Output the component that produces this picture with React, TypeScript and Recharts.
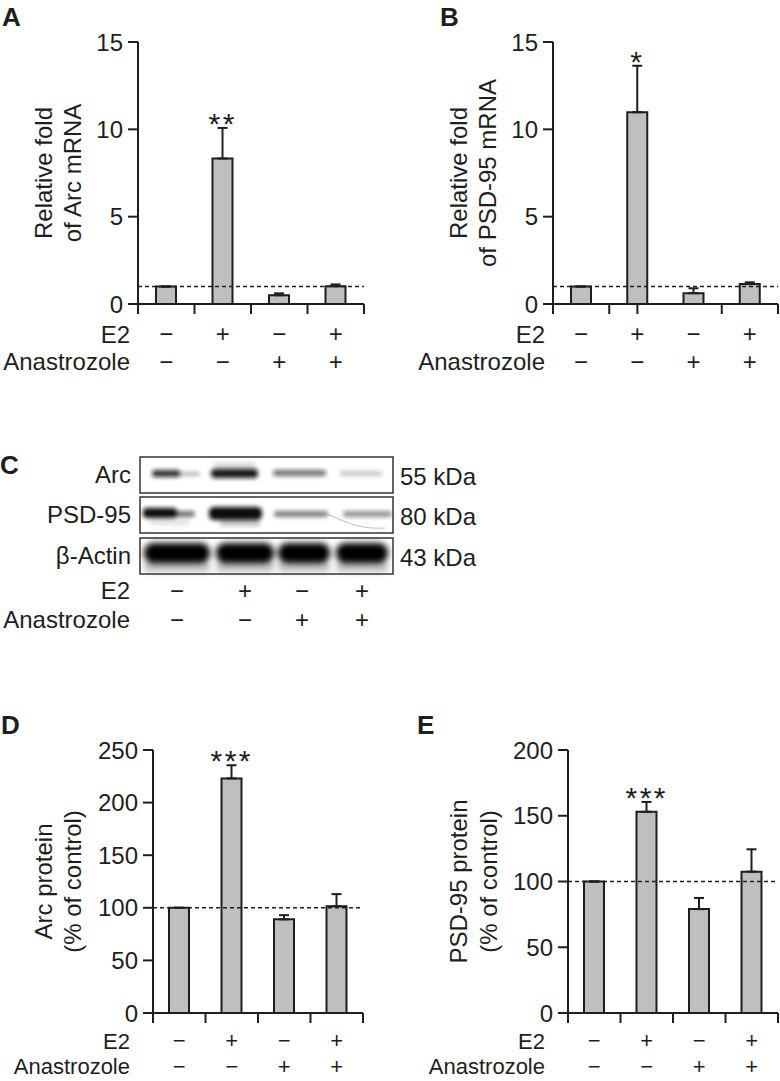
import React from "react";
import {
  Bar,
  BarChart,
  ErrorBar,
  ReferenceDot,
  ReferenceLine,
  XAxis,
  YAxis,
} from "recharts";

const FONT = "'Liberation Sans', Arial, Helvetica, sans-serif";
const INK = "#1e1e1e";
const BAR_FILL = "#bfbfbf";
const AXIS_H = 66;

// treatment table (same for every panel)
const e2Signs = ["−", "+", "−", "+"];
const anaSigns = ["−", "−", "+", "+"];

// A: Arc mRNA (relative fold)
const arcMrna = [1.0, 8.33, 0.5, 1.02];
const arcMrnaErr = [0, 1.75, 0.11, 0.1];
const arcMrnaSig = ["", "**", "", ""];

// B: PSD-95 mRNA (relative fold)
const psdMrna = [1.0, 10.98, 0.62, 1.14];
const psdMrnaErr = [0, 2.66, 0.28, 0.1];
const psdMrnaSig = ["", "*", "", ""];

// D: Arc protein (% of control)
const arcProtein = [100, 223, 89, 101.5];
const arcProteinErr = [0, 12.5, 4, 11.5];
const arcProteinSig = ["", "***", "", ""];

// E: PSD-95 protein (% of control)
const psdProtein = [100, 153, 79, 107.5];
const psdProteinErr = [0, 7.5, 8.5, 17];
const psdProteinSig = ["", "***", "", ""];

// C: western blot
const blotRows = ["Arc", "PSD-95", "β-Actin"];
const blotSizes = ["55 kDa", "80 kDa", "43 kDa"];

type PanelProps = {
  left: number;
  top: number;
  width: number;
  height: number;
  plotLeft: number;
  plotTop: number;
  plotRight: number;
  plotBottom: number;
  values: number[];
  errors: number[];
  sig: string[];
  yMax: number;
  yTicks: number[];
  baseline: number;
  yLabel: string[];
  yLabelX: number[];
  rowLabelX: number;
  boundaryTicks: number[];
  rowY: number[];
  rowFont: number;
};

function BarPanel(p: PanelProps) {
  const rows = p.values.map((v, i) => ({
    x: i + 0.5,
    value: v,
    err: [0, p.errors[i]],
  }));
  const centers = p.values.map((_, i) => i + 0.5);
  const tickList = Array.from(new Set([...p.boundaryTicks, ...centers])).sort(
    (a, b) => a - b,
  );
  const [r1, r2] = p.rowY;
  const fs = p.rowFont;

  const renderTick = (t: any) => {
    const v = t.payload.value;
    const ci = centers.indexOf(v);
    return (
      <g>
        {p.boundaryTicks.includes(v) && (
          <line x1={t.x} x2={t.x} y1={t.y} y2={t.y + 10} stroke={INK} strokeWidth={2} />
        )}
        {ci >= 0 && (
          <>
            <text x={t.x} y={t.y + r1} textAnchor="middle" fontSize={fs} fill={INK}>
              {e2Signs[ci]}
            </text>
            <text x={t.x} y={t.y + r2} textAnchor="middle" fontSize={fs} fill={INK}>
              {anaSigns[ci]}
            </text>
          </>
        )}
        {t.index === 0 && (
          <>
            <text x={p.rowLabelX} y={t.y + r1 + 1} textAnchor="end" fontSize={fs} fill={INK}>
              E2
            </text>
            <text x={p.rowLabelX} y={t.y + r2} textAnchor="end" fontSize={fs} fill={INK}>
              Anastrozole
            </text>
          </>
        )}
      </g>
    );
  };

  const renderYLabel = (lp: any) => {
    const vb = lp.viewBox || {};
    const cy = (vb.y ?? p.plotTop) + (vb.height ?? p.plotBottom - p.plotTop) / 2;
    return (
      <g>
        {p.yLabel.map((line, i) => (
          <text
            key={line}
            x={p.yLabelX[i]}
            y={cy}
            transform={`rotate(-90 ${p.yLabelX[i]} ${cy})`}
            textAnchor="middle"
            dominantBaseline="central"
            fontSize={24}
            fill={INK}
          >
            {line}
          </text>
        ))}
      </g>
    );
  };

  return (
    <div style={{ position: "absolute", left: p.left, top: p.top, width: p.width, height: p.height }}>
      <BarChart
        width={p.width}
        height={p.height}
        data={rows}
        margin={{
          top: p.plotTop,
          right: p.width - p.plotRight,
          bottom: p.height - p.plotBottom - AXIS_H,
          left: 0,
        }}
      >
        <XAxis
          type="number"
          dataKey="x"
          domain={[0, 4]}
          ticks={tickList}
          interval={0}
          tickLine={false}
          tickSize={0}
          tickMargin={0}
          height={AXIS_H}
          axisLine={{ stroke: INK, strokeWidth: 2 }}
          tick={renderTick}
        />
        <YAxis
          type="number"
          domain={[0, p.yMax]}
          ticks={p.yTicks}
          interval={0}
          width={p.plotLeft}
          tickSize={10}
          tickMargin={5}
          axisLine={{ stroke: INK, strokeWidth: 2 }}
          tickLine={{ stroke: INK, strokeWidth: 2 }}
          tick={{ fill: INK, fontSize: 24, fontFamily: FONT }}
          label={{ content: renderYLabel }}
        />
        <Bar
          dataKey="value"
          fill={BAR_FILL}
          stroke={INK}
          strokeWidth={2}
          barSize={20}
          isAnimationActive={false}
        >
          <ErrorBar dataKey="err" direction="y" width={5} stroke={INK} strokeWidth={2} />
        </Bar>
        <ReferenceLine y={p.baseline} stroke={INK} strokeWidth={1.5} strokeDasharray="4 3" />
        {p.sig.map((s, i) =>
          s ? (
            <ReferenceDot
              key={i}
              x={i + 0.5}
              y={p.values[i] + p.errors[i]}
              r={0}
              shape={(d: any) => (
                <text
                  x={d.cx}
                  y={d.cy + 6}
                  textAnchor="middle"
                  fontSize={30}
                  letterSpacing={2.5}
                  fill={INK}
                >
                  {s}
                </text>
              )}
            />
          ) : null,
        )}
      </BarChart>
    </div>
  );
}

function Blot() {
  const boxX0 = 140;
  const boxX1 = 393;
  const boxes = [457, 497, 538];
  const boxH = 36;
  const laneX = [177, 245, 302, 362];
  return (
    <svg
      style={{ position: "absolute", left: 0, top: 440 }}
      width={780}
      height={210}
      viewBox="0 440 780 210"
    >
      <defs>
        <filter id="blur2" x="-20%" y="-100%" width="140%" height="300%">
          <feGaussianBlur stdDeviation="2" />
        </filter>
        <filter id="blur3" x="-20%" y="-100%" width="140%" height="300%">
          <feGaussianBlur stdDeviation="3" />
        </filter>
      </defs>
      {/* Arc bands */}
      <g filter="url(#blur2)" fill="#111">
        <rect x={152} y={470} width={28} height={7} rx={3} opacity={0.85} />
        <rect x={178} y={472} width={22} height={4} rx={2} opacity={0.3} />
        <rect x={214} y={462} width={42} height={8} rx={3} opacity={0.12} />
        <rect x={211} y={469} width={47} height={9} rx={4} opacity={0.95} />
        <rect x={273} y={470} width={53} height={6} rx={3} opacity={0.6} />
        <rect x={340} y={471} width={42} height={5} rx={2} opacity={0.22} />
      </g>
      {/* PSD-95 bands */}
      <g filter="url(#blur2)" fill="#0b0b0b">
        <rect x={143} y={508} width={34} height={10} rx={4} opacity={1} />
        <rect x={175} y={511} width={20} height={6} rx={3} opacity={0.55} />
        <rect x={150} y={520} width={40} height={5} rx={2} opacity={0.12} />
        <rect x={209} y={507} width={53} height={13} rx={5} opacity={1} />
        <rect x={220} y={521} width={40} height={5} rx={2} opacity={0.25} />
        <rect x={274} y={511} width={54} height={6} rx={3} opacity={0.5} />
        <rect x={343} y={511} width={49} height={6} rx={3} opacity={0.42} />
      </g>
      <path d="M323 513 C 340 518, 355 530, 385 528" fill="none" stroke="#aaa" strokeWidth={0.8} />
      {/* beta-actin bands */}
      <g filter="url(#blur3)" fill="#050505">
        <rect x={144} y={562} width={66} height={10} rx={4} opacity={0.25} />
        <rect x={216} y={562} width={58} height={10} rx={4} opacity={0.25} />
        <rect x={278} y={562} width={52} height={10} rx={4} opacity={0.25} />
        <rect x={336} y={562} width={52} height={10} rx={4} opacity={0.25} />
        <rect x={144} y={543} width={66} height={20} rx={9} />
        <rect x={216} y={543} width={58} height={20} rx={9} />
        <rect x={278} y={543} width={52} height={20} rx={9} />
        <rect x={336} y={543} width={52} height={20} rx={9} />
      </g>
      {boxes.map((y, i) => (
        <g key={blotRows[i]}>
          <rect
            x={boxX0}
            y={y}
            width={boxX1 - boxX0}
            height={boxH}
            fill="none"
            stroke="#333"
            strokeWidth={1.5}
          />
          <text x={131} y={y + 26} textAnchor="end" fontSize={24} fill={INK}>
            {blotRows[i]}
          </text>
          <text x={400} y={y + 28} fontSize={24} fill={INK}>
            {blotSizes[i]}
          </text>
        </g>
      ))}
      <text x={130} y={599} textAnchor="end" fontSize={24} fill={INK}>
        E2
      </text>
      <text x={130} y={628} textAnchor="end" fontSize={24} fill={INK}>
        Anastrozole
      </text>
      {laneX.map((x, i) => (
        <g key={x}>
          <text x={x} y={599} textAnchor="middle" fontSize={24} fill={INK}>
            {e2Signs[i]}
          </text>
          <text x={x} y={628} textAnchor="middle" fontSize={24} fill={INK}>
            {anaSigns[i]}
          </text>
        </g>
      ))}
    </svg>
  );
}

const panelLetter = (t: string, x: number, y: number) => (
  <div
    style={{
      position: "absolute",
      left: x,
      top: y,
      fontSize: 26,
      fontWeight: 700,
      lineHeight: "26px",
      color: INK,
    }}
  >
    {t}
  </div>
);

export default function App() {
  return (
    <div
      style={{
        position: "absolute",
        left: 0,
        top: 0,
        width: 780,
        height: 1081,
        background: "#fff",
        fontFamily: FONT,
        overflow: "hidden",
      }}
    >
      {panelLetter("A", 2, 4)}
      {panelLetter("B", 440, 4)}
      {panelLetter("C", 0, 452)}
      {panelLetter("D", 1, 712)}
      {panelLetter("E", 417, 712)}

      <BarPanel
        left={0}
        top={0}
        width={390}
        height={380}
        plotLeft={138}
        plotTop={42}
        plotRight={364}
        plotBottom={304}
        values={arcMrna}
        errors={arcMrnaErr}
        sig={arcMrnaSig}
        yMax={15}
        yTicks={[0, 5, 10, 15]}
        baseline={1}
        yLabel={["Relative fold", "of Arc mRNA"]}
        yLabelX={[43, 72]}
        rowLabelX={130}
        boundaryTicks={[0, 1, 2, 3, 4]}
        rowY={[38, 66]}
        rowFont={24}
      />
      <BarPanel
        left={390}
        top={0}
        width={390}
        height={380}
        plotLeft={163}
        plotTop={42}
        plotRight={388}
        plotBottom={304}
        values={psdMrna}
        errors={psdMrnaErr}
        sig={psdMrnaSig}
        yMax={15}
        yTicks={[0, 5, 10, 15]}
        baseline={1}
        yLabel={["Relative fold", "of PSD-95 mRNA"]}
        yLabelX={[68, 97]}
        rowLabelX={155}
        boundaryTicks={[0, 1, 1.5, 3, 4]}
        rowY={[38, 66]}
        rowFont={24}
      />
      <Blot />
      <BarPanel
        left={0}
        top={650}
        width={390}
        height={431}
        plotLeft={153}
        plotTop={100}
        plotRight={363}
        plotBottom={363}
        values={arcProtein}
        errors={arcProteinErr}
        sig={arcProteinSig}
        yMax={250}
        yTicks={[0, 50, 100, 150, 200, 250]}
        baseline={100}
        yLabel={["Arc protein", "(% of control)"]}
        yLabelX={[43, 72]}
        rowLabelX={130}
        boundaryTicks={[0, 1, 2, 3, 4]}
        rowY={[35, 61]}
        rowFont={22}
      />
      <BarPanel
        left={390}
        top={650}
        width={390}
        height={431}
        plotLeft={178}
        plotTop={100}
        plotRight={388}
        plotBottom={363}
        values={psdProtein}
        errors={psdProteinErr}
        sig={psdProteinSig}
        yMax={200}
        yTicks={[0, 50, 100, 150, 200]}
        baseline={100}
        yLabel={["PSD-95 protein", "(% of control)"]}
        yLabelX={[68, 98]}
        rowLabelX={155}
        boundaryTicks={[0, 1, 2, 3, 4]}
        rowY={[35, 61]}
        rowFont={22}
      />
    </div>
  );
}
